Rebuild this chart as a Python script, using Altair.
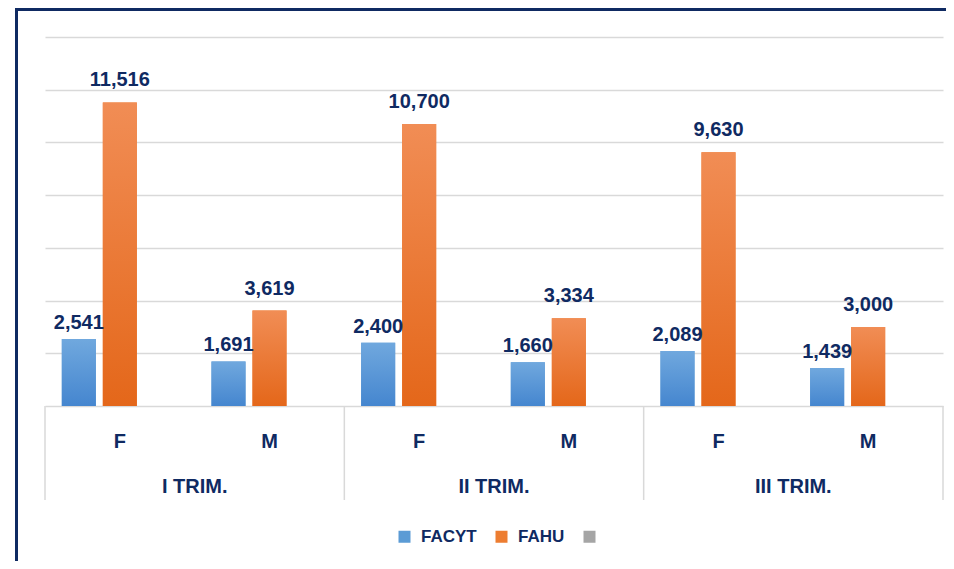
import altair as alt
import pandas as pd

# ---- data ----
trimesters = ["I TRIM.", "II TRIM.", "III TRIM."]
sexes = ["F", "M"]
series = ["FACYT", "FAHU", "Serie3"]
facyt = [2541, 1691, 2400, 1660, 2089, 1439]
fahu = [11516, 3619, 10700, 3334, 9630, 3000]
y_ticks = [0, 2000, 4000, 6000, 8000, 10000, 12000, 14000]

keys = [f"{t}|{s}" for t in trimesters for s in sexes]
rows = []
for i, k in enumerate(keys):
    rows.append({"key": k, "series": "FACYT", "value": facyt[i]})
    rows.append({"key": k, "series": "FAHU", "value": fahu[i]})
df = pd.DataFrame(rows)

trim_df = pd.DataFrame({
    "trim": trimesters,
    "fkey": [f"{t}|F" for t in trimesters],
    "mkey": [f"{t}|M" for t in trimesters],
})

NAVY = "#0f2a62"
FONT = "Liberation Sans"
W, H = 898, 369

x_scale = alt.Scale(domain=keys, paddingInner=0, paddingOuter=0)
y_scale = alt.Scale(domain=[0, 14000], nice=False)
xo_scale = alt.Scale(domain=series, paddingInner=0.17, paddingOuter=0.41)

x_enc = alt.X("key:N", scale=x_scale, sort=keys, title=None,
              axis=alt.Axis(labelExpr="split(datum.label, '|')[1]", labelAngle=0,
                            labelFontSize=20, labelFont=FONT, labelFontWeight="bold",
                            labelColor=NAVY, ticks=False, domain=False, grid=False,
                            labelPadding=25, labelBaseline="top"))
y_enc = alt.Y("value:Q", scale=y_scale, title=None,
              axis=alt.Axis(values=y_ticks, labels=False, ticks=False, domain=False,
                            grid=True, gridColor="#d9d9d9", gridWidth=1.3))
xo_enc = alt.XOffset("series:N", scale=xo_scale, sort=series)

base = alt.Chart(df)

bars = base.mark_bar().encode(
    x=x_enc, y=y_enc, xOffset=xo_enc,
    color=alt.Color("series:N",
                    scale=alt.Scale(domain=series, range=["#5b9bd5", "#ed7d31", "#a5a5a5"]),
                    legend=alt.Legend(title=None, orient="none", direction="horizontal",
                                      legendX=351, legendY=491, symbolType="square",
                                      symbolSize=144, symbolStrokeWidth=0,
                                      labelFontSize=17, labelFont=FONT,
                                      labelFontWeight="bold", labelColor=NAVY,
                                      labelOffset=8, columnPadding=16,
                                      labelExpr="datum.label == 'Serie3' ? '' : datum.label")),
)


def grad(top, bottom):
    return alt.Gradient(gradient="linear", x1=0, x2=0, y1=0, y2=1,
                        stops=[alt.GradientStop(color=top, offset=0),
                               alt.GradientStop(color=bottom, offset=1)])


blue_bars = base.transform_filter("datum.series == 'FACYT'").mark_bar(
    color=grad("#70a8de", "#4586cf")).encode(x=x_enc, y=y_enc, xOffset=xo_enc)
orange_bars = base.transform_filter("datum.series == 'FAHU'").mark_bar(
    color=grad("#f18d55", "#e4671a")).encode(x=x_enc, y=y_enc, xOffset=xo_enc)

txt_kw = dict(baseline="alphabetic", align="center", fontSize=20, font=FONT,
              fontWeight="bold", color=NAVY)
blue_txt = base.transform_filter("datum.series == 'FACYT'").mark_text(dy=-10, **txt_kw).encode(
    x=x_enc, y=y_enc, xOffset=xo_enc, text=alt.Text("value:Q", format=","))
orange_txt = base.transform_filter("datum.series == 'FAHU'").mark_text(dy=-16, **txt_kw).encode(
    x=x_enc, y=y_enc, xOffset=xo_enc, text=alt.Text("value:Q", format=","))

tchart = alt.Chart(trim_df)
trim_labels = tchart.mark_text(baseline="alphabetic", align="center", fontSize=20, font=FONT,
                               fontWeight="bold", color=NAVY).encode(
    x=alt.X("mkey:N", scale=x_scale, bandPosition=0),
    y=alt.value(456), text="trim:N")
separators = tchart.mark_rule(color="#d9d9d9", strokeWidth=1.5).encode(
    x=alt.X("fkey:N", scale=x_scale, bandPosition=0),
    y=alt.value(H), y2=alt.value(463))
right_sep = alt.Chart(pd.DataFrame({"a": [0]})).mark_rule(color="#d9d9d9", strokeWidth=1.5).encode(
    x=alt.value(W), y=alt.value(H), y2=alt.value(463))

frame = alt.Chart(pd.DataFrame({"a": [0]})).mark_rect(
    fillOpacity=0, stroke=NAVY, strokeWidth=3).encode(
    x=alt.value(-28.5), x2=alt.value(1200), y=alt.value(-27.5), y2=alt.value(800))

chart = alt.layer(
    frame, bars, blue_bars, orange_bars, blue_txt, orange_txt,
    separators, right_sep, trim_labels
).properties(
    width=W, height=H,
    background="white",
    autosize=alt.AutoSizeParams(type="none"),
    padding={"left": 37, "top": 29, "right": 3, "bottom": 155},
).configure_view(stroke="transparent", strokeWidth=0)

chart.save("out.html", embed_options={"renderer": "svg", "actions": False})
